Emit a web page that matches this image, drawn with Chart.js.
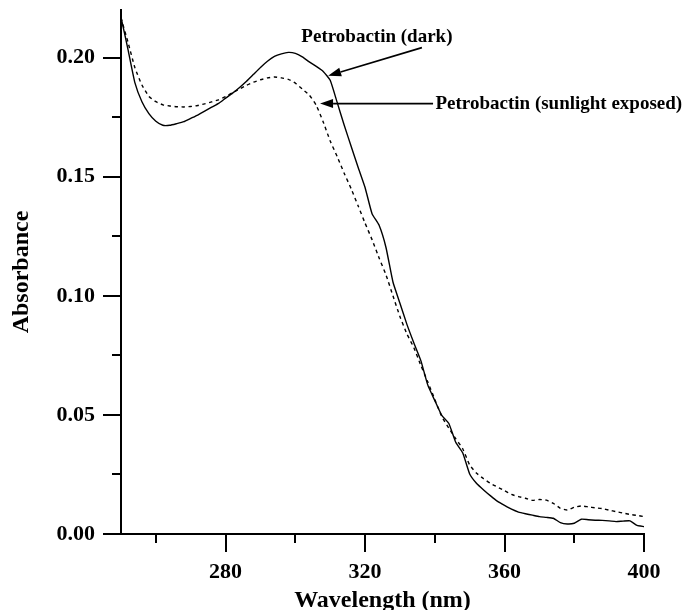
<!DOCTYPE html>
<html>
<head>
<meta charset="utf-8">
<script src="https://cdn.jsdelivr.net/npm/chart.js@4.4.1/dist/chart.umd.min.js"></script>
<style>
  html, body { margin: 0; padding: 0; background: #fff; }
  #wrap { width: 683px; height: 610px; }
</style>
</head>
<body>
<div id="wrap"><canvas id="chart"></canvas></div>
<script>
const wavelengths = [250, 252, 254, 256, 258, 260, 262, 264, 266, 268, 270, 272, 274, 276, 278,
  280, 282, 284, 286, 288, 290, 292, 294, 296, 298, 300, 302, 304, 306, 308, 310, 312, 314, 316, 318,
  320, 322, 324, 326, 328, 330, 332, 334, 336, 338, 340, 342, 344, 346, 348, 350, 352, 354, 356, 358,
  360, 362, 364, 366, 368, 370, 372, 374, 376, 378, 380, 382, 384, 386, 388, 390, 392, 394, 396, 398, 400];

const darkAbs = [0.2170, 0.2035, 0.1894, 0.1815, 0.1765, 0.1733, 0.1716, 0.1716, 0.1723, 0.1731,
  0.1745, 0.1759, 0.1775, 0.1792, 0.1808, 0.1830, 0.1851, 0.1875, 0.1901, 0.1930,
  0.1959, 0.1985, 0.2005, 0.2016, 0.2022, 0.2018, 0.2003, 0.1982, 0.1963, 0.1942,
  0.1905, 0.1812, 0.1717, 0.1628, 0.1540, 0.1455, 0.1345, 0.1297, 0.1203, 0.1058,
  0.0969, 0.0880, 0.0802, 0.0728, 0.0625, 0.0560, 0.0498, 0.0465, 0.0385, 0.0341,
  0.0252, 0.0212, 0.0185, 0.0160, 0.0137, 0.0120, 0.0104, 0.0092, 0.0085, 0.0079,
  0.0073, 0.0070, 0.0066, 0.0048, 0.0042, 0.0045, 0.0062, 0.0060, 0.0058, 0.0057,
  0.0055, 0.0052, 0.0054, 0.0055, 0.0036, 0.0031];

const sunAbs = [0.2167, 0.2065, 0.1957, 0.1885, 0.1837, 0.1815, 0.1802, 0.1797, 0.1794, 0.1793,
  0.1795, 0.1799, 0.1806, 0.1814, 0.1823, 0.1836, 0.1853, 0.1868, 0.1884, 0.1897,
  0.1907, 0.1915, 0.1919, 0.1915, 0.1909, 0.1893, 0.1868, 0.1843, 0.1800, 0.1730,
  0.1650, 0.1585, 0.1515, 0.1450, 0.1378, 0.1305, 0.1236, 0.1160, 0.1088, 0.1000,
  0.0913, 0.0840, 0.0782, 0.0708, 0.0638, 0.0565, 0.0493, 0.0445, 0.0400, 0.0358,
  0.0290, 0.0255, 0.0232, 0.0212, 0.0197, 0.0182, 0.0166, 0.0157, 0.0150, 0.0141,
  0.0145, 0.0142, 0.0129, 0.0108, 0.0101, 0.0112, 0.0118, 0.0114, 0.0110, 0.0107,
  0.0100, 0.0094, 0.0088, 0.0082, 0.0078, 0.0073];

const seriesNames = ["Petrobactin (dark)", "Petrobactin (sunlight exposed)"];
const xLabelled = [280, 320, 360, 400];
const yLabelled = ["0.00", "0.05", "0.10", "0.15", "0.20"];

// callouts, in data units: label anchor, arrow tail, arrow tip
const labelAt = [[323.4, 0.2088], [340.2, 0.1807]];
const arrowFrom = [[336.3, 0.2042], [339.5, 0.1807]];
const arrowTo = [[309.4, 0.1924], [307.1, 0.1807]];

const serif = "'Liberation Serif', 'Times New Roman', serif";

function isMajorY(v) { return Math.round(v * 1000) % 50 === 0; }
function isMajorX(v) { return xLabelled.includes(Math.round(v)); }

function arrow(ctx, x1, y1, x2, y2) {
  const a = Math.atan2(y2 - y1, x2 - x1);
  const len = 13, half = 4.5;
  const bx = x2 - len * Math.cos(a), by = y2 - len * Math.sin(a);
  ctx.beginPath();
  ctx.moveTo(x1, y1);
  ctx.lineTo(bx, by);
  ctx.stroke();
  ctx.beginPath();
  ctx.moveTo(x2, y2);
  ctx.lineTo(bx + half * Math.sin(a), by - half * Math.cos(a));
  ctx.lineTo(bx - half * Math.sin(a), by + half * Math.cos(a));
  ctx.closePath();
  ctx.fill();
}

const extras = {
  id: "extras",
  afterDraw(chart) {
    const { ctx, chartArea, scales: { x, y } } = chart;
    ctx.save();
    ctx.strokeStyle = "#000";
    ctx.fillStyle = "#000";
    ctx.lineWidth = 2;
    // minor ticks
    x.ticks.forEach(t => {
      if (isMajorX(t.value)) return;
      const px = Math.round(x.getPixelForValue(t.value));
      ctx.beginPath();
      ctx.moveTo(px, chartArea.bottom);
      ctx.lineTo(px, chartArea.bottom + 9);
      ctx.stroke();
    });
    y.ticks.forEach(t => {
      if (isMajorY(t.value)) return;
      const py = Math.round(y.getPixelForValue(t.value));
      ctx.beginPath();
      ctx.moveTo(chartArea.left, py);
      ctx.lineTo(chartArea.left - 9, py);
      ctx.stroke();
    });
    // callouts
    ctx.lineWidth = 1.6;
    ctx.font = "bold 19px " + serif;
    ctx.textBaseline = "middle";
    seriesNames.forEach((name, i) => {
      ctx.textAlign = i === 0 ? "center" : "left";
      ctx.fillText(name, x.getPixelForValue(labelAt[i][0]), y.getPixelForValue(labelAt[i][1]));
      arrow(ctx,
        x.getPixelForValue(arrowFrom[i][0]), y.getPixelForValue(arrowFrom[i][1]),
        x.getPixelForValue(arrowTo[i][0]), y.getPixelForValue(arrowTo[i][1]));
    });
    ctx.restore();
  }
};

const chart = new Chart(document.getElementById("chart"), {
  type: "line",
  data: {
    datasets: [{
      label: seriesNames[0],
      data: wavelengths.map((w, i) => ({ x: w, y: darkAbs[i] })),
      borderColor: "#000",
      borderWidth: 1.4,
      pointRadius: 0,
      tension: 0.15
    }, {
      label: seriesNames[1],
      data: wavelengths.map((w, i) => ({ x: w, y: sunAbs[i] })),
      borderColor: "#000",
      borderWidth: 1.4,
      borderDash: [3.5, 3.5],
      pointRadius: 0,
      tension: 0.15
    }]
  },
  options: {
    responsive: true,
    maintainAspectRatio: false,
    animation: false,
    layout: { padding: { left: 0, right: 39, top: 10, bottom: 0 } },
    plugins: { legend: { display: false }, tooltip: { enabled: false } },
    scales: {
      x: {
        type: "linear",
        min: 250,
        max: 400,
        afterFit: s => { s.height = 76; s.paddingLeft = 0; s.paddingRight = 0; },
        border: { display: true, color: "#000", width: 2 },
        grid: {
          drawOnChartArea: false,
          tickLength: 18,
          lineWidth: 2,
          color: c => isMajorX(c.tick.value) ? "#000" : "rgba(0,0,0,0)"
        },
        ticks: {
          stepSize: 20,
          includeBounds: false,
          maxRotation: 0,
          autoSkip: false,
          padding: 7,
          color: "#000",
          font: { family: serif, size: 22, weight: "bold" },
          callback: v => isMajorX(v) ? String(v) : ""
        },
        title: {
          display: true,
          text: "Wavelength (nm)",
          color: "#000",
          font: { family: serif, size: 24, weight: "bold", lineHeight: 1 },
          padding: { top: 0, bottom: -3 }
        }
      },
      y: {
        min: 0,
        max: 0.22,
        afterFit: s => { s.width = 121; s.paddingTop = 0; s.paddingBottom = 0; },
        border: { display: true, color: "#000", width: 2 },
        grid: {
          drawOnChartArea: false,
          tickLength: 18,
          lineWidth: 2,
          color: c => isMajorY(c.tick.value) ? "#000" : "rgba(0,0,0,0)"
        },
        ticks: {
          stepSize: 0.025,
          includeBounds: false,
          autoSkip: false,
          padding: 8,
          color: "#000",
          font: { family: serif, size: 22, weight: "bold" },
          callback: v => isMajorY(v) ? yLabelled[Math.round(v * 20)] : ""
        },
        title: {
          display: true,
          text: "Absorbance",
          color: "#000",
          font: { family: serif, size: 24, weight: "bold", lineHeight: 1 },
          padding: { top: 10, bottom: 0 }
        }
      }
    }
  },
  plugins: [extras]
});
</script>
</body>
</html>
